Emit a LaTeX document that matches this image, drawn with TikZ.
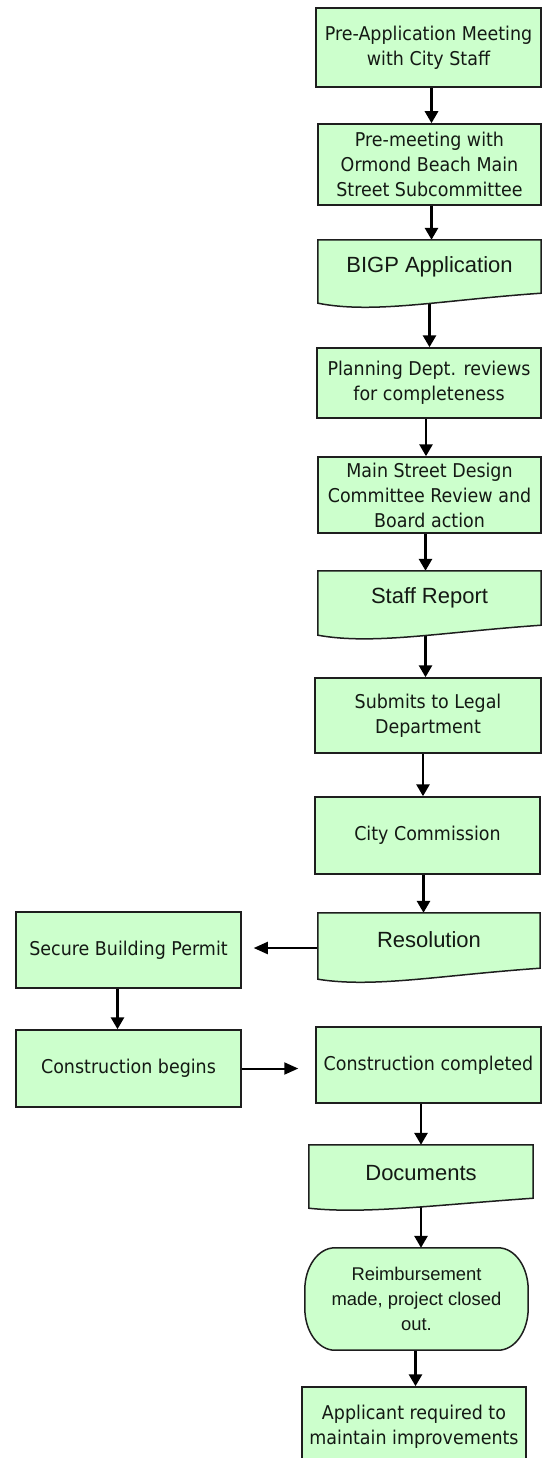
\documentclass[tikz,border=0pt]{standalone}
\usepackage{fontspec}
\setmainfont{DejaVu Sans}[FakeStretch=0.92]
\newfontfamily\arialf{Liberation Sans}
\usetikzlibrary{arrows.meta,calc}
\definecolor{boxgreen}{RGB}{204,255,204}
\definecolor{edgecol}{RGB}{30,30,30}
\definecolor{txtcol}{RGB}{20,25,20}
\pgfdeclarelayer{bg}
\pgfsetlayers{bg,main}
\newcommand{\docshape}[5]{%
  \path[docbox] let \p1=(#1.north west), \p2=(#1.south east), \n1={\x2-\x1} in
   (\x1,\y1) -- ({\x1},{\y2-(#2pt)})
   .. controls ({\x1+0.25*\n1},{\y2-(#3pt)}) and ({\x1+0.55*\n1},{\y2-(#4pt)}) ..
   ({\x2},{\y2-(#5pt)}) -- (\x2,\y1) -- cycle;}
\newcommand{\termshape}[3]{%
  \path[docbox] let \p1=(#1.north west), \p2=(#1.south east) in
   ({\x1+#2pt},\y1) -- ({\x2-#2pt},\y1)
   arc[start angle=90, end angle=0, x radius=#2pt, y radius=#3pt]
   -- ({\x2},{\y2+#3pt})
   arc[start angle=0, end angle=-90, x radius=#2pt, y radius=#3pt]
   -- ({\x1+#2pt},\y2)
   arc[start angle=270, end angle=180, x radius=#2pt, y radius=#3pt]
   -- ({\x1},{\y1-#3pt})
   arc[start angle=180, end angle=90, x radius=#2pt, y radius=#3pt] -- cycle;}
\tikzset{
  box/.style={draw=edgecol, line width=1.5pt, fill=boxgreen, inner sep=2pt,
    align=center, text=txtcol, font=\fontsize{19}{25}\selectfont},
  docnode/.style={inner sep=2pt, align=center, text=txtcol,
    font=\arialf\fontsize{22}{26}\selectfont},
  docbox/.style={draw=edgecol, line width=1.5pt, fill=boxgreen},
  termnode/.style={inner sep=2pt, align=center, text=txtcol,
    font=\arialf\fontsize{18.4}{25}\selectfont},
  varr/.style={draw=black, line width=2.8pt, -{Triangle[width=13pt,length=12pt]}},
  harr/.style={draw=black, line width=2pt, -{Triangle[width=12pt,length=14pt]}}
}
\begin{document}
\begin{tikzpicture}[x=1pt,y=-1pt]
\useasboundingbox (0,0) rectangle (542,1458);
\node[box, minimum width=225pt, minimum height=79pt] (pre) at (428.5,47.5) {Pre-Application Meeting\\with City Staff};
\node[box, minimum width=223pt, minimum height=81pt] (prem) at (429.5,164.5) {Pre-meeting with\\Ormond Beach Main\\Street Subcommittee};
\node[docnode, minimum width=223pt, minimum height=54pt] (bigp) at (429.5,267) {BIGP Application};
\node[box, minimum width=224pt, minimum height=70pt] (plan) at (429,383) {Planning Dept. reviews\\for completeness};
\node[box, minimum width=223pt, minimum height=76pt] (main) at (429.5,495) {Main Street Design\\Committee Review and\\Board action};
\node[docnode, minimum width=223pt, minimum height=54pt] (staff) at (429.5,598) {Staff Report};
\node[box, minimum width=226pt, minimum height=75pt] (legal) at (428,715.5) {Submits to Legal\\Department};
\node[box, minimum width=225pt, minimum height=77pt] (city) at (427.5,835.5) {City Commission};
\node[docnode, minimum width=222pt, minimum height=54pt] (res) at (429,940) {Resolution};
\node[box, minimum width=225pt, minimum height=76pt] (permit) at (128.5,950) {Secure Building Permit};
\node[box, minimum width=225pt, minimum height=77pt] (begins) at (128.5,1068.5) {Construction begins};
\node[box, minimum width=225pt, minimum height=76pt] (completed) at (428.5,1065) {Construction completed};
\node[docnode, minimum width=224pt, minimum height=56pt] (docs) at (421,1173) {Documents};
\node[termnode, minimum width=223pt, minimum height=102pt] (reimb) at (416.5,1299) {Reimbursement\\made, project closed\\out.};
\node[box, minimum width=224pt, minimum height=79pt] (appl) at (414,1426.5) {Applicant required to\\maintain improvements};
\begin{pgfonlayer}{bg}
\draw[varr] ([xshift=3pt]pre.south) -- ([xshift=3pt]pre.south |- prem.north);
\draw[varr] ([xshift=2pt]prem.south) -- ([xshift=2pt]prem.south |- bigp.north);
\draw[varr] (bigp.south) -- (bigp.south |- plan.north);
\draw[varr] ([xshift=-3pt]plan.south) -- ([xshift=-3pt]plan.south |- main.north);
\draw[varr] ([xshift=-4pt]main.south) -- ([xshift=-4pt]main.south |- staff.north);
\draw[varr] ([xshift=-4pt]staff.south) -- ([xshift=-4pt]staff.south |- legal.north);
\draw[varr] ([xshift=-5pt]legal.south) -- ([xshift=-5pt]legal.south |- city.north);
\draw[varr] ([xshift=-4pt]city.south) -- ([xshift=-4pt]city.south |- res.north);
\draw[harr, shorten >=12pt] ([yshift=-8pt]res.west) -- ([yshift=-8pt]res.west -| permit.east);
\draw[varr] ([xshift=-11pt]permit.south) -- ([xshift=-11pt]permit.south |- begins.north);
\draw[harr, shorten >=17pt] (begins.east) -- (begins.east -| completed.west);
\draw[varr] (completed.south -| docs.north) -- (docs.north);
\draw[varr] (docs.south) -- (docs.south |- reimb.north);
\draw[varr] ([xshift=-1pt]reimb.south) -- ([xshift=-1pt]reimb.south |- appl.north);
\docshape{bigp}{9}{20}{6}{-1}
\docshape{staff}{10}{20}{7}{0}
\docshape{res}{12}{21}{8}{1}
\docshape{docs}{7}{13}{4}{-3}
\termshape{reimb}{30}{42}
\end{pgfonlayer}
\end{tikzpicture}
\end{document}
